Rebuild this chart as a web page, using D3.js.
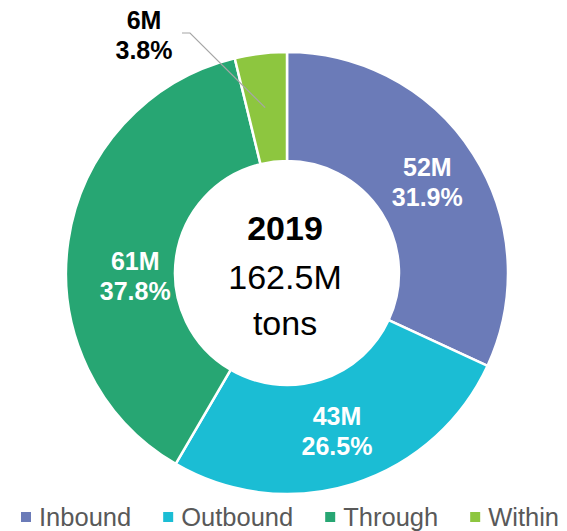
<!DOCTYPE html>
<html>
<head>
<meta charset="utf-8">
<script src="https://cdn.jsdelivr.net/npm/d3@7"></script>
<style>
  body { margin: 0; background: #fff; }
  svg { font-family: "Liberation Sans", Arial, sans-serif; display: block; }
</style>
</head>
<body>
<div id="chart"></div>
<script>
// Freight flows 2019, share of 162.5M tons
const categories = ["Inbound", "Outbound", "Through", "Within"];
const percents = [31.9, 26.5, 37.8, 3.8];
const tonnageLabels = ["52M", "43M", "61M", "6M"];
const colours = ["#6b7bb8", "#1bbdd4", "#27a673", "#8dc63f"];
const centerLines = ["2019", "162.5M", "tons"];

const width = 567, height = 531;
const cx = 287, cy = 273;
const outerR = 221, innerR = 112;

const svg = d3.select("#chart").append("svg")
  .attr("width", width)
  .attr("height", height);

const data = categories.map((c, i) => ({ category: c, pct: percents[i], tons: tonnageLabels[i], colour: colours[i] }));

const pie = d3.pie().value(d => d.pct).sort(null);
const arc = d3.arc().innerRadius(innerR).outerRadius(outerR);
const arcs = pie(data);

const g = svg.append("g").attr("transform", `translate(${cx},${cy})`);

g.selectAll(".slice")
  .data(arcs)
  .join("path")
  .attr("class", "slice")
  .attr("d", arc)
  .attr("fill", d => d.data.colour)
  .attr("stroke", "#fff")
  .attr("stroke-width", 2.5)
  .attr("stroke-linejoin", "round");

// labels inside the ring (small slice gets an outside label with a leader)
const nudge = { Through: [13, 28] };
const inside = arcs.filter(d => d.data.pct > 10);

const lab = g.selectAll(".lab")
  .data(inside)
  .join("text")
  .attr("class", "lab")
  .attr("text-anchor", "middle")
  .attr("fill", "#fff")
  .style("font-size", "25px")
  .style("font-weight", "bold")
  .attr("transform", d => {
    const [x, y] = arc.centroid(d);
    const n = nudge[d.data.category] || [0, 0];
    return `translate(${x + n[0]},${y + n[1]})`;
  });
lab.append("tspan").attr("x", 0).attr("y", -7).text(d => d.data.tons);
lab.append("tspan").attr("x", 0).attr("y", 23).text(d => d.data.pct.toFixed(1) + "%");

// outside label for "Within"
const small = arcs.filter(d => d.data.pct <= 10);
small.forEach(d => {
  const [ex, ey] = arc.centroid(d);
  const lx = 144 - cx, ly = 21 - cy;
  g.append("polyline")
    .attr("points", [[lx + 38, ly + 12], [lx + 46, ly + 12], [ex - 2, ey]].map(p => p.join(",")).join(" "))
    .attr("fill", "none")
    .attr("stroke", "#a6a6a6")
    .attr("stroke-width", 1.2);
  const t = g.append("text")
    .attr("text-anchor", "middle")
    .attr("fill", "#000")
    .style("font-size", "25px")
    .style("font-weight", "bold")
    .attr("transform", `translate(${lx},${ly})`);
  t.append("tspan").attr("x", 0).attr("y", 8).text(d.data.tons);
  t.append("tspan").attr("x", 0).attr("y", 38).text(d.data.pct.toFixed(1) + "%");
});

// center text
const c = g.append("text").attr("text-anchor", "middle").attr("fill", "#000").style("font-size", "34px");
c.append("tspan").attr("x", -2).attr("y", -33).style("font-weight", "bold").text(centerLines[0]);
c.append("tspan").attr("x", -2).attr("y", 16).text(centerLines[1]);
c.append("tspan").attr("x", -2).attr("y", 62).text(centerLines[2]);

// legend
const legend = svg.append("g").attr("class", "legend");
let lxPos = 21;
data.forEach(d => {
  const item = legend.append("g").attr("transform", `translate(${lxPos},0)`);
  item.append("rect")
    .attr("x", 0).attr("y", 512)
    .attr("width", 10).attr("height", 10)
    .attr("fill", d.colour);
  const txt = item.append("text")
    .attr("x", 18).attr("y", 526)
    .attr("fill", "#595959")
    .style("font-size", "25.5px")
    .text(d.category);
  lxPos += 18 + txt.node().getComputedTextLength() + 32;
});
</script>
</body>
</html>
